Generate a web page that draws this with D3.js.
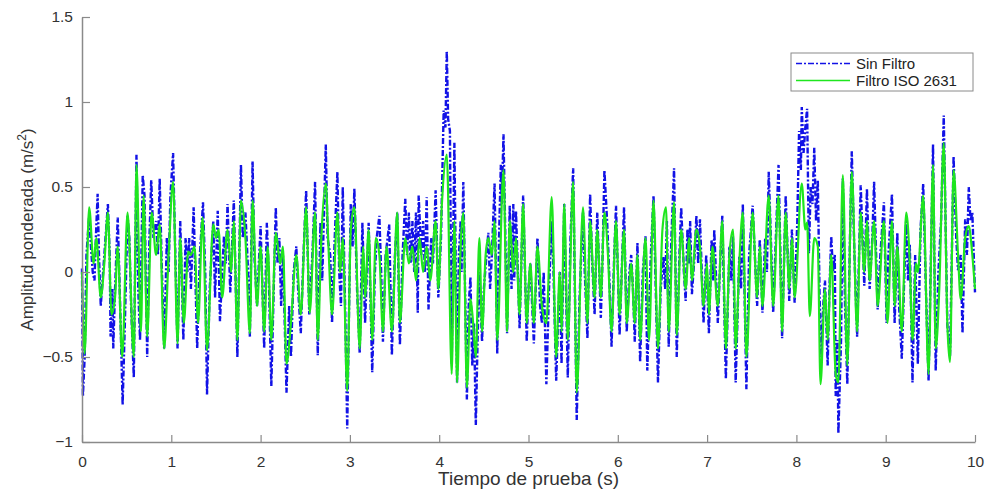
<!DOCTYPE html>
<html>
<head>
<meta charset="utf-8">
<script src="https://cdn.jsdelivr.net/npm/d3@7"></script>
<style>
  body { margin: 0; background: #fff; }
  text { font-family: "Liberation Sans", Arial, sans-serif; }
</style>
</head>
<body>
<div id="chart"></div>
<script>
// tick values
var xTicks = [0,1,2,3,4,5,6,7,8,9,10]
var yTicks = [-1,-0.5,0,0.5,1,1.5]
var seriesNames = ["Sin Filtro", "Filtro ISO 2631"]

// Sin Filtro: [tiempo (s), amplitud]  (peaks and valleys)
var sinFiltro = [
  [0.00,0.02],[0.01,-0.73],[0.03,-0.50],[0.05,0.10],[0.08,0.33],[0.10,0.15],[0.12,0.00],[0.14,-0.05],
  [0.155,0.20],[0.175,0.46],[0.19,0.10],[0.21,-0.20],[0.23,-0.05],[0.25,0.10],[0.27,0.25],[0.29,0.40],
  [0.31,0.10],[0.32,-0.38],[0.34,-0.10],[0.35,-0.45],[0.37,-0.10],[0.40,0.32],[0.42,-0.05],[0.455,-0.78],
  [0.48,-0.30],[0.51,0.33],[0.53,0.20],[0.55,-0.20],[0.58,-0.62],[0.61,0.69],[0.63,-0.10],[0.65,-0.40],
  [0.68,0.57],[0.70,0.45],[0.73,-0.50],[0.755,0.20],[0.775,0.54],[0.80,0.20],[0.83,0.30],[0.85,0.10],
  [0.87,0.55],[0.89,0.10],[0.92,-0.45],[0.95,0.20],[0.97,0.00],[0.99,0.45],[1.02,0.70],[1.045,0.10],
  [1.07,-0.45],[1.10,0.30],[1.135,-0.40],[1.16,0.20],[1.18,0.00],[1.20,0.20],[1.22,-0.10],[1.25,0.38],
  [1.29,-0.45],[1.32,0.10],[1.355,0.41],[1.38,0.00],[1.40,-0.72],[1.43,-0.10],[1.47,0.30],[1.49,-0.15],
  [1.52,0.36],[1.545,-0.29],[1.57,0.00],[1.59,0.21],[1.61,0.05],[1.63,0.40],[1.66,-0.12],[1.70,0.42],
  [1.74,-0.50],[1.78,0.63],[1.80,0.20],[1.83,0.35],[1.86,0.00],[1.88,-0.38],[1.91,0.65],[1.93,0.10],
  [1.96,-0.20],[1.98,0.05],[2.00,0.27],[2.04,-0.45],[2.07,0.29],[2.09,0.00],[2.12,-0.67],[2.17,0.38],
  [2.19,0.05],[2.21,0.20],[2.23,-0.20],[2.25,0.10],[2.27,-0.30],[2.29,-0.71],[2.32,-0.20],[2.34,-0.50],
  [2.37,0.00],[2.40,0.15],[2.42,-0.10],[2.45,-0.36],[2.48,0.10],[2.51,0.48],[2.545,-0.25],[2.58,0.10],
  [2.61,0.53],[2.64,-0.49],[2.67,0.29],[2.69,-0.05],[2.73,0.75],[2.75,0.20],[2.78,0.10],[2.80,-0.30],
  [2.83,0.20],[2.86,0.59],[2.88,0.00],[2.90,-0.20],[2.92,0.50],[2.95,-0.30],[2.97,-0.92],[3.00,0.10],
  [3.01,0.40],[3.03,0.15],[3.05,0.49],[3.08,-0.10],[3.11,-0.48],[3.14,0.29],[3.17,-0.30],[3.21,0.29],
  [3.25,-0.59],[3.28,0.00],[3.30,0.20],[3.33,0.33],[3.35,0.00],[3.37,-0.41],[3.40,0.10],[3.44,0.28],
  [3.47,-0.49],[3.50,0.05],[3.53,0.35],[3.56,-0.43],[3.59,0.10],[3.62,0.43],[3.64,0.10],[3.66,0.35],
  [3.68,0.05],[3.70,0.30],[3.72,0.00],[3.74,0.35],[3.76,-0.24],[3.77,0.45],[3.80,0.10],[3.82,0.30],
  [3.84,0.00],[3.86,0.44],[3.88,-0.22],[3.91,0.20],[3.93,0.05],[3.96,0.48],[3.99,-0.15],[4.02,0.20],
  [4.05,0.95],[4.07,0.85],[4.085,1.30],[4.10,0.90],[4.12,0.83],[4.14,-0.54],[4.17,0.76],[4.20,-0.65],
  [4.22,0.10],[4.24,0.30],[4.25,0.00],[4.27,0.53],[4.31,-0.75],[4.33,-0.20],[4.35,-0.03],[4.37,-0.55],
  [4.39,-0.30],[4.41,-0.90],[4.43,-0.40],[4.45,0.00],[4.48,-0.41],[4.50,-0.10],[4.53,0.10],[4.55,0.23],
  [4.57,-0.10],[4.59,0.10],[4.62,0.52],[4.65,-0.48],[4.67,0.20],[4.69,0.63],[4.70,0.40],[4.72,0.81],
  [4.76,-0.36],[4.79,0.39],[4.81,-0.10],[4.83,0.40],[4.84,-0.05],[4.86,0.36],[4.90,-0.33],[4.94,0.45],
  [4.98,-0.41],[5.00,-0.10],[5.02,0.05],[5.06,-0.42],[5.10,0.20],[5.13,-0.20],[5.15,-0.30],[5.17,0.00],
  [5.20,-0.66],[5.23,-0.10],[5.26,0.30],[5.28,0.00],[5.31,-0.64],[5.35,0.00],[5.37,-0.54],[5.40,0.40],
  [5.44,-0.62],[5.47,0.20],[5.50,0.61],[5.54,-0.87],[5.57,-0.18],[5.59,0.10],[5.61,0.35],[5.63,0.00],
  [5.66,-0.39],[5.69,0.46],[5.71,0.10],[5.74,-0.25],[5.77,0.35],[5.81,-0.27],[5.83,0.10],[5.85,0.60],
  [5.88,0.30],[5.90,0.05],[5.93,-0.44],[5.96,0.10],[5.98,0.39],[6.02,-0.37],[6.05,0.10],[6.07,0.38],
  [6.10,-0.35],[6.13,0.00],[6.15,0.10],[6.17,-0.10],[6.19,-0.41],[6.22,0.17],[6.25,-0.53],[6.28,0.00],
  [6.31,0.21],[6.33,-0.58],[6.37,0.10],[6.40,0.45],[6.45,-0.65],[6.48,-0.10],[6.51,0.09],[6.53,-0.10],
  [6.55,0.30],[6.57,-0.44],[6.60,0.20],[6.63,0.61],[6.66,-0.50],[6.69,0.10],[6.71,0.38],[6.74,0.00],
  [6.76,-0.17],[6.78,0.25],[6.80,0.05],[6.81,0.30],[6.83,-0.13],[6.86,0.10],[6.88,0.33],[6.90,0.05],
  [6.92,0.31],[6.96,-0.30],[6.99,0.10],[7.02,-0.36],[7.05,0.19],[7.07,-0.05],[7.08,0.25],[7.12,-0.30],
  [7.15,0.10],[7.17,0.33],[7.21,-0.63],[7.25,0.15],[7.27,-0.05],[7.29,0.21],[7.32,-0.65],[7.36,0.09],
  [7.38,-0.10],[7.40,0.40],[7.44,-0.69],[7.47,0.10],[7.51,0.39],[7.56,-0.20],[7.59,0.19],[7.62,-0.24],
  [7.65,0.20],[7.67,0.00],[7.69,0.59],[7.72,0.10],[7.74,-0.24],[7.77,0.20],[7.80,0.63],[7.84,-0.39],
  [7.88,0.45],[7.92,-0.17],[7.95,0.25],[7.98,-0.18],[8.01,0.30],[8.03,0.83],[8.05,0.60],[8.06,0.97],
  [8.08,0.70],[8.10,0.85],[8.12,0.96],[8.14,0.11],[8.16,0.50],[8.18,0.40],[8.20,0.73],[8.22,0.30],
  [8.24,0.54],[8.26,-0.15],[8.28,-0.50],[8.30,-0.20],[8.32,-0.05],[8.35,-0.55],[8.37,-0.10],[8.39,0.21],
  [8.41,0.00],[8.43,0.10],[8.44,-0.73],[8.46,-0.40],[8.47,-0.95],[8.50,-0.40],[8.52,0.55],[8.545,-0.20],
  [8.57,-0.66],[8.60,0.20],[8.62,0.71],[8.65,0.10],[8.68,-0.38],[8.72,0.51],[8.76,-0.08],[8.79,0.49],
  [8.82,-0.10],[8.85,0.20],[8.87,0.53],[8.91,-0.22],[8.94,0.10],[8.98,0.41],[9.01,-0.30],[9.03,0.10],
  [9.07,0.46],[9.10,-0.30],[9.13,0.23],[9.15,-0.20],[9.18,-0.51],[9.21,0.00],[9.23,0.32],[9.25,-0.05],
  [9.27,0.16],[9.30,-0.65],[9.33,0.10],[9.36,-0.54],[9.39,0.25],[9.42,0.52],[9.45,-0.10],[9.48,-0.64],
  [9.53,0.75],[9.56,-0.58],[9.59,0.00],[9.62,0.30],[9.65,0.92],[9.69,-0.31],[9.72,-0.50],[9.76,0.68],
  [9.79,0.20],[9.81,0.01],[9.84,0.10],[9.86,-0.36],[9.89,0.31],[9.91,0.10],[9.93,0.50],[9.95,0.30],
  [9.97,0.35],[10.00,-0.12]
]

// Filtro ISO 2631: [tiempo (s), amplitud]
var filtroIso = [
  [0.00,0.00],[0.03,-0.48],[0.08,0.38],[0.13,0.05],[0.16,0.20],[0.21,-0.15],[0.25,0.05],[0.29,0.35],
  [0.33,-0.25],[0.37,-0.15],[0.40,0.15],[0.45,-0.50],[0.51,0.35],[0.58,-0.50],[0.61,0.63],[0.66,-0.35],
  [0.69,0.45],[0.73,-0.38],[0.78,0.35],[0.83,0.10],[0.87,0.28],[0.92,-0.45],[0.97,0.10],[1.02,0.53],
  [1.07,-0.42],[1.10,0.20],[1.14,-0.30],[1.19,0.12],[1.22,0.10],[1.26,0.15],[1.30,-0.30],[1.35,0.32],
  [1.40,-0.46],[1.47,0.28],[1.50,0.20],[1.53,0.25],[1.57,-0.15],[1.63,0.25],[1.67,0.00],[1.70,0.30],
  [1.74,-0.40],[1.78,0.42],[1.83,0.20],[1.88,-0.36],[1.91,0.42],[1.96,-0.20],[2.00,0.15],[2.04,-0.35],
  [2.08,0.15],[2.12,-0.40],[2.17,0.23],[2.22,0.05],[2.25,0.15],[2.29,-0.54],[2.34,-0.30],[2.40,0.10],
  [2.45,-0.25],[2.51,0.38],[2.55,-0.24],[2.61,0.35],[2.64,-0.40],[2.68,0.20],[2.73,0.52],[2.76,0.15],
  [2.80,-0.25],[2.86,0.35],[2.89,0.00],[2.92,0.20],[2.97,-0.70],[3.01,0.25],[3.05,0.38],[3.11,-0.45],
  [3.15,0.15],[3.17,-0.15],[3.21,0.25],[3.25,-0.40],[3.29,0.20],[3.33,0.10],[3.37,-0.35],[3.41,0.15],
  [3.47,-0.35],[3.53,0.35],[3.56,-0.30],[3.62,0.20],[3.66,0.05],[3.70,0.15],[3.74,-0.05],[3.78,0.20],
  [3.82,0.00],[3.86,0.15],[3.90,-0.05],[3.96,0.30],[3.99,-0.10],[4.03,0.40],[4.085,0.69],[4.14,-0.60],
  [4.17,0.30],[4.20,-0.65],[4.24,0.15],[4.27,0.35],[4.31,-0.68],[4.35,-0.16],[4.38,-0.30],[4.41,-0.50],
  [4.45,0.20],[4.48,-0.35],[4.52,0.10],[4.55,0.20],[4.59,0.10],[4.62,0.30],[4.65,-0.40],[4.72,0.60],
  [4.76,-0.35],[4.79,0.30],[4.83,0.00],[4.86,0.20],[4.90,-0.25],[4.94,0.40],[4.98,-0.30],[5.02,0.05],
  [5.06,-0.30],[5.10,0.15],[5.15,-0.20],[5.20,-0.30],[5.26,0.44],[5.31,-0.50],[5.35,0.00],[5.37,-0.35],
  [5.40,0.40],[5.44,-0.40],[5.50,0.53],[5.54,-0.71],[5.61,0.38],[5.66,-0.30],[5.69,0.30],[5.74,-0.15],
  [5.77,0.25],[5.81,-0.15],[5.85,0.35],[5.89,0.10],[5.93,-0.35],[5.98,0.30],[6.02,-0.25],[6.07,0.25],
  [6.10,-0.30],[6.15,0.05],[6.19,-0.30],[6.22,0.10],[6.25,-0.40],[6.31,0.20],[6.35,-0.40],[6.40,0.42],
  [6.45,-0.45],[6.50,0.25],[6.54,0.38],[6.57,-0.35],[6.63,0.41],[6.66,-0.37],[6.71,0.25],[6.76,-0.10],
  [6.80,0.20],[6.83,-0.05],[6.88,0.25],[6.92,0.15],[6.96,-0.20],[7.00,0.05],[7.02,-0.25],[7.06,0.15],
  [7.12,-0.20],[7.17,0.30],[7.21,-0.45],[7.25,0.10],[7.29,0.25],[7.32,-0.45],[7.36,0.05],[7.40,0.35],
  [7.44,-0.50],[7.51,0.35],[7.56,-0.15],[7.59,0.15],[7.62,-0.20],[7.69,0.45],[7.74,-0.20],[7.80,0.45],
  [7.84,-0.35],[7.88,0.35],[7.92,-0.10],[7.95,0.20],[7.98,-0.15],[8.06,0.52],[8.10,0.25],[8.12,0.29],
  [8.15,-0.26],[8.20,0.20],[8.24,0.15],[8.27,-0.66],[8.32,-0.10],[8.35,-0.40],[8.39,0.10],[8.44,-0.60],
  [8.47,-0.65],[8.52,0.57],[8.57,-0.55],[8.62,0.59],[8.68,-0.35],[8.72,0.35],[8.76,0.00],[8.79,0.30],
  [8.82,-0.05],[8.87,0.30],[8.91,-0.20],[8.98,0.30],[9.02,-0.30],[9.07,0.30],[9.10,-0.20],[9.13,0.15],
  [9.18,-0.35],[9.23,0.35],[9.27,0.05],[9.30,-0.40],[9.34,0.05],[9.36,0.00],[9.42,0.45],[9.48,-0.60],
  [9.53,0.63],[9.56,-0.45],[9.60,-0.10],[9.65,0.76],[9.69,-0.30],[9.72,-0.53],[9.76,0.60],[9.81,0.10],
  [9.84,-0.16],[9.89,0.20],[9.93,0.27],[9.97,0.10],[10.00,-0.10]
]

var W = 993, H = 493
var margin = {top: 17, right: 18, bottom: 51, left: 82}
var width = W - margin.left - margin.right,
    height = H - margin.top - margin.bottom

var svg = d3.select("#chart").append("svg")
    .attr("width", W)
    .attr("height", H)

svg.append("rect").attr("width", W).attr("height", H).attr("fill", "#fff")

var g = svg.append("g")
    .attr("transform", "translate(" + margin.left + "," + margin.top + ")")

var x = d3.scaleLinear().domain([0, 10]).range([0, width])
var y = d3.scaleLinear().domain([-1, 1.5]).range([height, 0])

// lines
var lineBlue = d3.line()
    .x(function(d) { return x(d[0]) })
    .y(function(d) { return y(d[1]) })
var lineGreen = d3.line()
    .x(function(d) { return x(d[0]) })
    .y(function(d) { return y(d[1]) })
    .curve(d3.curveMonotoneX)

var blue = "#1212e6", green = "#1ee61e"

g.append("path")
    .datum(sinFiltro)
    .attr("fill", "none")
    .attr("stroke", blue)
    .attr("stroke-width", 2.4)
    .attr("stroke-dasharray", "6,2,2,2")
    .attr("d", lineBlue)

g.append("path")
    .datum(filtroIso)
    .attr("fill", "none")
    .attr("stroke", green)
    .attr("stroke-width", 2.2)
    .attr("d", lineGreen)

// axes (left and bottom only, ticks inside)
var axisColor = "#8a8a8a", textColor = "#333"

var xAxis = g.append("g")
    .attr("transform", "translate(0," + height + ")")
    .call(d3.axisBottom(x).tickValues(xTicks).tickSizeInner(-7).tickSizeOuter(0).tickPadding(9))
xAxis.select(".domain").attr("stroke", axisColor).attr("stroke-width", 1.5)
xAxis.selectAll(".tick line").attr("stroke", axisColor).attr("stroke-width", 1.2)
xAxis.selectAll(".tick text")
    .attr("fill", textColor)
    .style("font-size", "15.5px")
    .attr("dy", "1em")

var yAxis = g.append("g")
    .call(d3.axisLeft(y).tickValues(yTicks).tickSizeInner(-8).tickSizeOuter(0).tickPadding(9)
      .tickFormat(function(d) { return d3.format("")(d) }))
yAxis.select(".domain").attr("stroke", axisColor).attr("stroke-width", 1.5)
yAxis.selectAll(".tick line").attr("stroke", axisColor).attr("stroke-width", 1.2)
yAxis.selectAll(".tick text")
    .attr("fill", textColor)
    .style("font-size", "15.5px")

// axis labels
g.append("text")
    .attr("x", width / 2)
    .attr("y", height + 43)
    .attr("text-anchor", "middle")
    .attr("fill", textColor)
    .style("font-size", "19px")
    .text("Tiempo de prueba (s)")

var yl = svg.append("text")
    .attr("transform", "translate(33," + (margin.top + height / 2) + ") rotate(-90)")
    .attr("text-anchor", "middle")
    .attr("fill", textColor)
    .style("font-size", "17px")
yl.append("tspan").text("Amplitud ponderada (m/s")
yl.append("tspan").attr("dy", -7).style("font-size", "12px").text("2")
yl.append("tspan").attr("dy", 7).text(")")

// legend
var lg = svg.append("g").attr("transform", "translate(791,53)")
lg.append("rect")
    .attr("width", 182).attr("height", 38)
    .attr("fill", "#fff")
    .attr("stroke", "#8a8a8a")
    .attr("stroke-width", 1)
var legendRows = [
  {name: seriesNames[0], color: blue, dash: "6,2,2,2"},
  {name: seriesNames[1], color: green, dash: null}
]
legendRows.forEach(function(r, i) {
  var cy = 10.5 + i * 17
  lg.append("line")
    .attr("x1", 5).attr("x2", 59)
    .attr("y1", cy).attr("y2", cy)
    .attr("stroke", r.color)
    .attr("stroke-width", 1.5)
    .attr("stroke-dasharray", r.dash)
  lg.append("text")
    .attr("x", 65).attr("y", cy)
    .attr("dy", "0.35em")
    .attr("fill", "#222")
    .style("font-size", "15px")
    .text(r.name)
})
</script>
</body>
</html>
